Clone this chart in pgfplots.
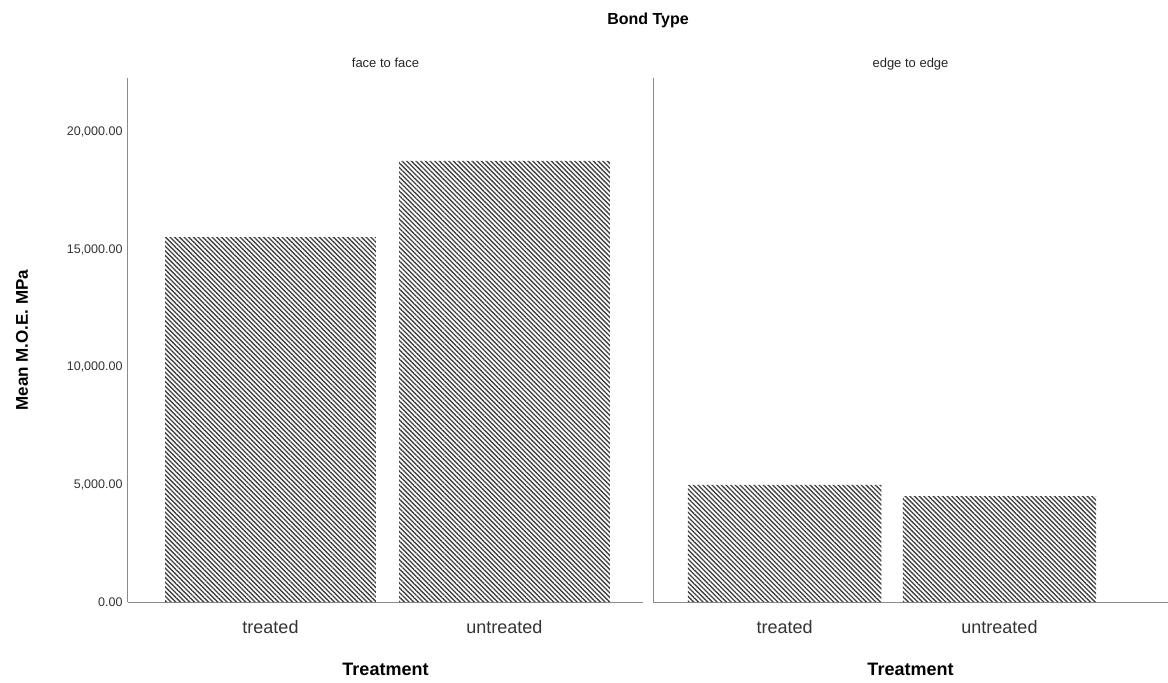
\documentclass[border=0pt]{standalone}
\usepackage{pgfplots}
\pgfplotsset{compat=1.18}
\usepackage{fontspec}
\setmainfont{Liberation Sans}
\usetikzlibrary{patterns.meta}
\definecolor{axgray}{HTML}{8A8A8A}
\definecolor{hatch}{HTML}{404040}
\pgfplotsset{
  panel/.style={
    scale only axis, width=515pt, height=524pt,
    anchor=north west,
    ymin=0, ymax=22300,
    axis x line=bottom, axis y line=left,
    axis line style={-, axgray, line width=1pt},
    major tick length=0pt,
    xtick={0,1}, xticklabels={treated,untreated},
    xticklabel style={font=\fontsize{18}{20}\selectfont, text=black!80, yshift=-15pt},
    xlabel={Treatment},
    xlabel style={font=\fontsize{18}{20}\selectfont\bfseries, yshift=-22pt},
    title style={font=\fontsize{13}{15}\selectfont, at={(0.5,1)}, anchor=base, yshift=5pt, text=black!85},
    ybar, bar width=0.9,
    /pgf/number format/assume math mode=true,
  },
  hatchbar/.style={draw=none, pattern={Lines[angle=-45, distance=3.3pt, line width=1.35pt]}, pattern color=hatch},
}
\begin{document}
\begin{tikzpicture}
\path[use as bounding box] (0pt,0pt) rectangle (1168pt,-683pt);
\node[font=\fontsize{16}{18}\selectfont\bfseries] at (648pt,-20pt) {Bond Type};
\begin{axis}[panel, at={(128pt,-78pt)}, xmin=-0.609, xmax=1.592,
  title={face to face},
  ytick={0,5000,10000,15000,20000},
  yticklabel style={font=\fontsize{12.5}{14}\selectfont, text=black!80, xshift=-2pt},
  /pgf/number format/fixed,
  /pgf/number format/fixed zerofill,
  /pgf/number format/precision=2,
  /pgf/number format/1000 sep={,},
  scaled y ticks=false,
  ylabel={Mean M.O.E. MPa},
  ylabel style={font=\fontsize{17}{19}\selectfont\bfseries, yshift=32pt},
]
\addplot[hatchbar] coordinates {(0,15530) (1,18770)};
\end{axis}
\begin{axis}[panel, at={(653pt,-78pt)}, xmin=-0.612, xmax=1.784,
  title={edge to edge},
  ytick=\empty,
]
\addplot[hatchbar] coordinates {(0,4980) (1,4510)};
\end{axis}
\end{tikzpicture}
\end{document}
